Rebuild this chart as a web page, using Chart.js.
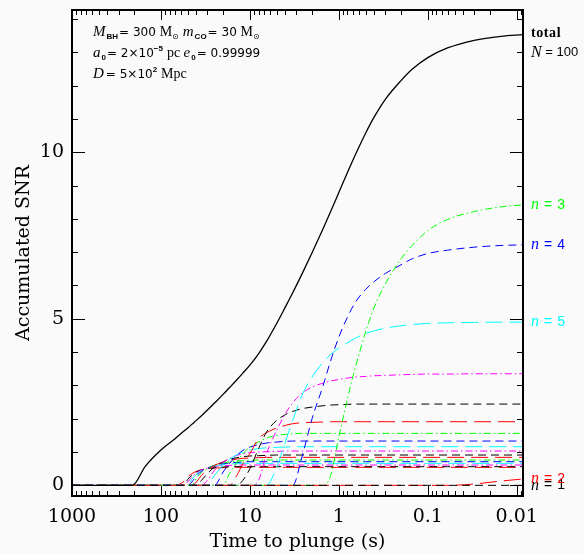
<!DOCTYPE html>
<html><head><meta charset="utf-8">
<script src="https://cdn.jsdelivr.net/npm/chart.js@4"></script>
<style>html,body{margin:0;padding:0;background:#fafafa;overflow:hidden}canvas{display:block}</style>
</head><body>
<canvas id="c" width="584" height="554"></canvas>
<script>
// ---- data ----
const times = [1000, 210, 150, 100, 70, 55, 50, 45, 40, 35, 30, 25, 20, 17, 14, 12, 10, 8, 6.5, 5, 4, 3.3, 2.6, 2, 1.5, 1.25, 1, 0.8, 0.65, 0.5, 0.4, 0.3, 0.2, 0.15, 0.1, 0.06, 0.03, 0.015, 0.0085];

const snrTotal = [0, 0, 0.57, 1.06, 1.39, 1.63, 1.72, 1.83, 1.95, 2.09, 2.26, 2.47, 2.73, 2.93, 3.17, 3.37, 3.61, 3.95, 4.32, 4.86, 5.35, 5.78, 6.34, 6.98, 7.71, 8.19, 8.79, 9.39, 9.93, 10.57, 11.06, 11.59, 12.15, 12.49, 12.84, 13.13, 13.36, 13.48, 13.53];

const snrN1  = [0,0,0,0,0,0,0,0,0,0, 0,0,0,0,0,0,0,0,0,0, 0,0,0,0,0,0,0,0,0,0, 0,0,0,0,0,0,0,0,0];
const snrN2  = [0,0,0,0,0,0,0,0,0,0, 0,0,0,0,0,0,0,0,0,0, 0,0,0,0,0,0,0,0,0,0, 0,0,0,0,0,0, 0.04,0.13,0.19];
const snrN3  = [0,0,0,0,0,0,0,0,0,0, 0,0,0,0,0,0,0,0,0,0, 0,0,0,0,0, 0.26,1.45,2.6,3.55,4.6,5.35,6.05,6.8,7.2,7.65,7.98,8.22,8.36,8.42];
const snrN4  = [0,0,0,0,0,0,0,0,0,0, 0,0,0,0,0,0,0,0,0,0, 0,0, 0.85,2.0,3.0,3.7,4.45,5.05,5.5,5.88,6.12,6.36,6.62,6.8,6.96,7.06,7.15,7.2,7.22];
const snrN5  = [0,0,0,0,0,0,0,0,0,0, 0,0,0,0,0,0,0,0,0, 0.55,1.3,1.95,2.7,3.25,3.7,3.92,4.12,4.28,4.42,4.56,4.64,4.72,4.79,4.83,4.86,4.88,4.89,4.9,4.9];
const snrN6  = [0,0,0,0,0,0,0,0,0,0, 0,0,0,0,0,0,0, 0.15,0.95,1.65,2.15,2.48,2.76,2.95,3.07,3.13,3.18,3.22,3.25,3.27,3.29,3.3,3.32,3.33,3.34,3.34,3.35,3.35,3.35];
const snrN7  = [0,0,0,0,0,0,0,0,0,0, 0,0,0,0,0, 0.15,0.5,1.1,1.6,1.95,2.12,2.22,2.3,2.35,2.39,2.41,2.42,2.43, 2.44,2.44,2.44,2.44,2.44,2.44,2.44,2.44,2.44,2.44,2.44];
const snrN8  = [0,0,0,0,0,0,0,0,0,0, 0,0,0,0, 0.3,0.65,0.95,1.4,1.58,1.72,1.8,1.85,1.88,1.89,1.9, 1.91,1.91,1.91,1.91,1.91,1.91,1.91,1.91,1.91,1.91,1.91,1.91,1.91,1.91];
const snrN9  = [0,0,0,0,0,0,0,0,0,0, 0,0,0, 0.35,0.7,0.95,1.15,1.3,1.42,1.5,1.53,1.55, 1.56,1.56,1.56,1.56,1.56,1.56,1.56,1.56,1.56,1.56,1.56,1.56,1.56,1.56,1.56,1.56,1.56];
const snrN10 = [0,0,0,0,0,0,0,0,0,0, 0,0, 0.4,0.65,0.9,1.05,1.15,1.22,1.27,1.3,1.32, 1.33,1.33,1.33,1.33,1.33,1.33,1.33,1.33,1.33,1.33,1.33,1.33,1.33,1.33,1.33,1.33,1.33,1.33];
const snrN11 = [0,0,0,0,0,0,0,0,0,0, 0, 0.3,0.6,0.78,0.92,1.0,1.06,1.1,1.13,1.14,1.15, 1.16,1.16,1.16,1.16,1.16,1.16,1.16,1.16,1.16,1.16,1.16,1.16,1.16,1.16,1.16,1.16,1.16,1.16];
const snrN12 = [0,0,0,0,0,0,0,0,0,0, 0.15,0.45,0.7,0.8,0.9,0.95,0.98,1.0,1.01,1.02, 1.03,1.03,1.03,1.03,1.03,1.03,1.03,1.03,1.03,1.03,1.03,1.03,1.03,1.03,1.03,1.03,1.03,1.03,1.03];
const snrN13 = [0,0,0,0,0,0,0,0,0, 0.15,0.35,0.55,0.7,0.78,0.83,0.86,0.88,0.89,0.9, 0.91,0.91,0.91,0.91,0.91,0.91,0.91,0.91,0.91,0.91,0.91,0.91,0.91,0.91,0.91,0.91,0.91,0.91,0.91,0.91];
const snrN14 = [0,0,0,0,0,0,0,0, 0.1,0.3,0.45,0.6,0.7,0.75,0.79,0.81,0.82,0.83, 0.84,0.84,0.84,0.84,0.84,0.84,0.84,0.84,0.84,0.84,0.84,0.84,0.84,0.84,0.84,0.84,0.84,0.84,0.84,0.84,0.84];
const snrN15 = [0,0,0,0,0,0,0,0, 0.2,0.38,0.5,0.6,0.67,0.7,0.73,0.74,0.75, 0.76,0.76,0.76,0.76,0.76,0.76,0.76,0.76,0.76,0.76,0.76,0.76,0.76,0.76,0.76,0.76,0.76,0.76,0.76,0.76,0.76,0.76];
const snrN16 = [0,0,0,0,0,0,0, 0.1,0.28,0.42,0.52,0.6,0.65,0.67,0.69,0.7, 0.71,0.71,0.71,0.71,0.71,0.71,0.71,0.71,0.71,0.71,0.71,0.71,0.71,0.71,0.71,0.71,0.71,0.71,0.71,0.71,0.71,0.71,0.71];
const snrN17 = [0,0,0,0,0,0,0, 0.18,0.33,0.44,0.52,0.58,0.62,0.64,0.65, 0.66,0.66,0.66,0.66,0.66,0.66,0.66,0.66,0.66,0.66,0.66,0.66,0.66,0.66,0.66,0.66,0.66,0.66,0.66,0.66,0.66,0.66,0.66,0.66];
const snrN18 = [0,0,0,0,0,0, 0.1,0.25,0.37,0.46,0.52,0.56,0.59,0.6, 0.61,0.61,0.61,0.61,0.61,0.61,0.61,0.61,0.61,0.61,0.61,0.61,0.61,0.61,0.61,0.61,0.61,0.61,0.61,0.61,0.61,0.61,0.61,0.61,0.61];
const snrN19 = [0,0,0,0,0,0, 0.18,0.3,0.4,0.46,0.5,0.53,0.55, 0.56,0.56,0.56,0.56,0.56,0.56,0.56,0.56,0.56,0.56,0.56,0.56,0.56,0.56,0.56,0.56,0.56,0.56,0.56,0.56,0.56,0.56,0.56,0.56,0.56,0.56];
const snrN20 = [0,0,0,0,0, 0.12,0.25,0.35,0.42,0.47,0.5,0.52,0.53, 0.54,0.54,0.54,0.54,0.54,0.54,0.54,0.54,0.54,0.54,0.54,0.54,0.54,0.54,0.54,0.54,0.54,0.54,0.54,0.54,0.54,0.54,0.54,0.54,0.54,0.54];

const harmonicSeries = [snrN1, snrN2, snrN3, snrN4, snrN5, snrN6, snrN7, snrN8, snrN9, snrN10,
                        snrN11, snrN12, snrN13, snrN14, snrN15, snrN16, snrN17, snrN18, snrN19, snrN20];
const labelledHarmonics = [1, 2, 3, 4, 5];

const xTickValues = [1000, 100, 10, 1, 0.1, 0.01];
const xTickLabels = ['1000', '100', '10', '1', '0.1', '0.01'];
const yTickValues = [0, 5, 10];
const yTickLabels = ['0', '5', '10'];
const X_MIN = 0.0085, X_MAX = 1000, Y_MIN = -0.32, Y_MAX = 14.27;

// ---- styles ----
const colorCycle = ['#000000', '#ff0000', '#00ff00', '#0000ff', '#00ffff', '#ff00ff'];
const dashCycle = [[8, 5], [17, 7], [7, 3, 1.5, 3]];
const SERIF = '"DejaVu Serif"';

function toPoints(vals) { return times.map((t, i) => ({ x: t, y: vals[i] })); }

const datasets = [{
  label: 'total', data: toPoints(snrTotal), borderColor: '#000', borderWidth: 1.3,
  showLine: true, pointRadius: 0, cubicInterpolationMode: 'monotone', fill: false
}];
harmonicSeries.forEach((vals, k) => {
  datasets.push({
    label: 'n = ' + (k + 1), data: toPoints(vals),
    borderColor: colorCycle[k % 6], borderWidth: 1, borderDash: dashCycle[k % 3],
    showLine: true, pointRadius: 0, cubicInterpolationMode: 'monotone', fill: false
  });
});

function drawRich(ctx, x, y, parts, color, baseline, spacing) {
  ctx.fillStyle = color; ctx.textAlign = 'left'; ctx.textBaseline = baseline || 'alphabetic';
  if ('letterSpacing' in ctx) ctx.letterSpacing = spacing || '0px';
  let cx = x;
  for (const p of parts) {
    ctx.font = p.f;
    ctx.fillText(p.t, cx, y + (p.dy || 0));
    cx += ctx.measureText(p.t).width + (p.sp || 0);
  }
  if ('letterSpacing' in ctx) ctx.letterSpacing = '0px';
}

const F_VAR = 'italic 15px "Liberation Serif"';
const F_NUM = '12px "DejaVu Sans"';
const F_UNIT = '14px "Liberation Serif"';
const F_SUB = 'bold 8px "Liberation Sans"';
const F_SUN = '8px "DejaVu Sans"';

const framePlugin = {
  id: 'frame',
  afterDatasetsDraw(chart) {
    const { ctx, chartArea: a, scales: { x, y } } = chart;
    ctx.save();
    ctx.strokeStyle = '#000';
    ctx.lineWidth = 1;
    const seg = (x1, y1, x2, y2) => { ctx.beginPath(); ctx.moveTo(x1, y1); ctx.lineTo(x2, y2); ctx.stroke(); };
    for (let v = 0; v <= 14; v++) {
      const py = Math.round(y.getPixelForValue(v)) + 0.5;
      const len = yTickValues.includes(v) ? 13 : 6;
      seg(a.left, py, a.left + len, py);
      seg(a.right, py, a.right - len, py);
    }
    for (let e = -3; e <= 3; e++) {
      for (let k = 1; k <= 9; k++) {
        const v = k * Math.pow(10, e);
        if (v < X_MIN || v > X_MAX) continue;
        const px = Math.round(x.getPixelForValue(v)) + 0.5;
        const len = k === 1 ? 10 : 5;
        seg(px, a.bottom, px, a.bottom - len);
        seg(px, a.top, px, a.top + len);
      }
    }
    ctx.lineWidth = 2;
    ctx.strokeRect(a.left, a.top, a.right - a.left, a.bottom - a.top);
    ctx.restore();
  },
  afterDraw(chart) {
    const { ctx, chartArea: a, scales: { y } } = chart;
    ctx.save();
    // top-left parameter annotation
    const x0 = 93;
    drawRich(ctx, x0, 36, [
      { t: 'M', f: F_VAR, sp: 1 }, { t: 'BH', f: F_SUB, dy: 3, sp: 1 },
      { t: '= 300 ', f: F_NUM }, { t: 'M', f: F_UNIT }, { t: '\u2299', f: F_SUN, dy: 3, sp: 4 },
      { t: 'm', f: F_VAR, sp: 1 }, { t: 'CO', f: F_SUB, dy: 3, sp: 1 },
      { t: '= 30 ', f: F_NUM }, { t: 'M', f: F_UNIT }, { t: '\u2299', f: F_SUN, dy: 3 }
    ], '#000', 'alphabetic', '0px');
    drawRich(ctx, x0, 57, [
      { t: 'a', f: F_VAR, sp: 1 }, { t: '0', f: F_SUB, dy: 3, sp: 1 },
      { t: '= 2\u00d710', f: F_NUM }, { t: '\u22125', f: F_SUB, dy: -6, sp: 4 },
      { t: 'pc ', f: F_UNIT }, { t: 'e', f: F_VAR, sp: 1 }, { t: '0', f: F_SUB, dy: 3, sp: 1 },
      { t: '= 0.99999', f: F_NUM }
    ], '#000', 'alphabetic', '0px');
    drawRich(ctx, x0, 78, [
      { t: 'D', f: F_VAR, sp: 2 }, { t: '= 5\u00d710', f: F_NUM }, { t: '2', f: F_SUB, dy: -6, sp: 4 },
      { t: 'Mpc', f: F_UNIT }
    ], '#000', 'alphabetic', '0px');

    // right-hand labels
    const rx = a.right + 8;
    const F_RN = '14px "Liberation Sans"';
    const F_RV = 'italic 16px "Liberation Serif"';
    const yTot = y.getPixelForValue(snrTotal[snrTotal.length - 1]);
    drawRich(ctx, rx, yTot - 1, [{ t: 'total', f: 'bold 14px "Liberation Serif"' }], '#000', 'middle', '0.6px');
    drawRich(ctx, rx, yTot + 18, [{ t: 'N', f: F_RV }, { t: ' = 100', f: '13px "Liberation Sans"' }], '#000', 'middle', '0px');
    for (const n of labelledHarmonics) {
      const vals = harmonicSeries[n - 1];
      const py = y.getPixelForValue(vals[vals.length - 1]);
      drawRich(ctx, rx, py, [{ t: 'n', f: F_RV }, { t: ' = ' + n, f: F_RN }], colorCycle[(n - 1) % 6], 'middle', '0.6px');
    }
    ctx.restore();
  }
};

new Chart(document.getElementById('c').getContext('2d'), {
  type: 'scatter',
  data: { datasets },
  options: {
    responsive: false, animation: false,
    layout: { padding: { top: 10, right: 61, left: 0, bottom: 0 } },
    plugins: { legend: { display: false }, tooltip: { enabled: false } },
    elements: { point: { radius: 0 } },
    scales: {
      x: {
        type: 'logarithmic', position: 'bottom', reverse: true, min: X_MIN, max: X_MAX,
        afterBuildTicks: s => { s.ticks = xTickValues.map(v => ({ value: v })); },
        afterFit: s => { s.height = 58; s.paddingLeft = 0; s.paddingRight = 0; },
        grid: { display: false, drawTicks: false }, border: { display: false },
        ticks: {
          callback: (v, i) => xTickLabels[i], autoSkip: false, maxRotation: 0, minRotation: 0,
          padding: 10, color: '#000', font: { family: SERIF, size: 19 }
        },
        title: { display: true, text: 'Time to plunge (s)', color: '#000', font: { family: SERIF, size: 19 }, padding: { top: 0, bottom: 1 } }
      },
      y: {
        type: 'linear', min: Y_MIN, max: Y_MAX,
        afterBuildTicks: s => { s.ticks = yTickValues.map(v => ({ value: v })); },
        afterFit: s => { s.width = 72; s.paddingTop = 0; s.paddingBottom = 0; },
        grid: { display: false, drawTicks: false }, border: { display: false },
        ticks: {
          callback: (v, i) => yTickLabels[i], autoSkip: false, padding: 8, color: '#000',
          font: { family: SERIF, size: 19 }
        },
        title: { display: true, text: 'Accumulated SNR', color: '#000', font: { family: SERIF, size: 19 }, padding: { top: 13, bottom: 0 } }
      }
    }
  },
  plugins: [framePlugin]
});
</script>
</body></html>
